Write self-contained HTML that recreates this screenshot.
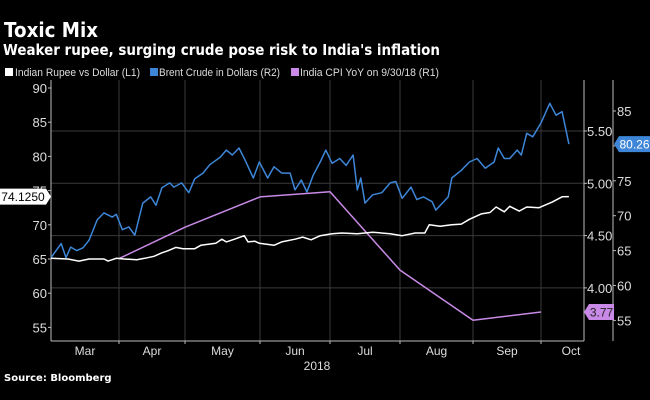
<!DOCTYPE html>
<html><head><meta charset="utf-8"><style>
html,body{margin:0;padding:0;background:#000;width:650px;height:400px;overflow:hidden}
svg{display:block;font-family:"Liberation Sans",sans-serif}
</style></head><body>
<svg id="chart" width="650" height="400" viewBox="0 0 650 400">
<rect x="0" y="0" width="650" height="400" fill="#000"/>
<text x="4" y="37" fill="#fff" font-family="DejaVu Sans" font-weight="bold" font-size="20" textLength="94" lengthAdjust="spacingAndGlyphs">Toxic Mix</text>
<text x="3" y="55" fill="#fff" font-family="DejaVu Sans" font-weight="bold" font-size="15" textLength="437" lengthAdjust="spacingAndGlyphs">Weaker rupee, surging crude pose risk to India's inflation</text>
<g>
 <rect x="5" y="68" width="8" height="8" fill="#fff"/>
 <text x="15" y="76" fill="#ddd" font-size="11" textLength="125" lengthAdjust="spacingAndGlyphs">Indian Rupee vs Dollar (L1)</text>
 <rect x="150" y="68" width="8" height="8" fill="#3d86d8"/>
 <text x="159" y="76" fill="#ddd" font-size="11" textLength="121" lengthAdjust="spacingAndGlyphs">Brent Crude in Dollars (R2)</text>
 <rect x="291" y="68" width="8" height="8" fill="#c88ae6"/>
 <text x="300" y="76" fill="#ddd" font-size="11" textLength="139" lengthAdjust="spacingAndGlyphs">India CPI YoY on 9/30/18 (R1)</text>
</g>
<g id="grid"></g><g id="axes"></g><g id="series"></g><g id="labels"></g>
<text x="317" y="370" fill="#ddd" font-size="12" text-anchor="middle">2018</text>
<text x="4" y="381" fill="#fff" font-family="DejaVu Sans" font-weight="bold" font-size="10">Source: Bloomberg</text>
</svg>
<script>
const months = ["Mar","Apr","May","Jun","Jul","Aug","Sep","Oct"];
const l1Ticks = [55,60,65,70,75,80,85,90];
const r1Ticks = [4.00,4.50,5.00,5.50];
const r2Ticks = [55,60,65,70,75,80,85];
const rupeeT = [0,0.25,0.41,0.56,0.78,0.84,0.96,1.08,1.27,1.39,1.53,1.65,1.74,1.86,1.97,2.13,2.21,2.41,2.49,2.55,2.66,2.79,2.84,2.93,2.99,3.2,3.31,3.5,3.61,3.73,3.86,4.03,4.17,4.39,4.61,4.86,5.03,5.21,5.34,5.4,5.55,5.71,5.84,5.95,6.12,6.25,6.34,6.46,6.54,6.68,6.79,6.97,7.16,7.31,7.41];
const rupeeV = [65.1,65,64.7,65,65,64.7,65.1,65,64.9,65.1,65.4,65.9,66.2,66.7,66.5,66.5,67,67.3,67.9,67.5,67.9,68.4,67.5,67.6,67.3,67,67.5,67.9,68.2,67.8,68.4,68.7,68.8,68.7,68.9,68.7,68.4,68.8,68.8,70,69.8,70,70.1,70.8,71.6,71.8,72.6,71.9,72.7,72,72.6,72.5,73.3,74.1,74.125];
const brentT = [0,0.15,0.22,0.29,0.38,0.47,0.56,0.68,0.78,0.9,0.96,1.05,1.15,1.24,1.36,1.48,1.56,1.65,1.77,1.83,1.95,2.05,2.13,2.24,2.33,2.47,2.55,2.63,2.72,2.8,2.91,2.99,3.11,3.2,3.31,3.43,3.5,3.59,3.67,3.76,3.86,3.94,4.03,4.14,4.23,4.33,4.39,4.44,4.5,4.61,4.74,4.86,4.94,5.03,5.15,5.23,5.32,5.44,5.49,5.66,5.71,5.84,5.95,6.06,6.18,6.31,6.37,6.46,6.54,6.65,6.71,6.79,6.88,7.0,7.13,7.22,7.31,7.41];
const brentV = [64,66,64,65.5,65,65.4,66.5,69.4,70.4,69.8,70.2,68,68.4,67.2,71.8,72.7,71.5,74,74.7,74.1,74.7,73.3,75.3,76.1,77.3,78.4,79.4,78.7,79.7,78,75.4,77.7,75.4,77,76.1,76.1,73.7,75.1,73.4,75.8,77.7,79.4,77.5,78.2,77.2,78.7,73.7,75.4,71.8,73,73.3,74.7,74.9,72.5,74.1,72.3,72.7,72,70.8,72.7,75.4,76.5,77.7,78.2,76.8,77.7,79.7,78.2,78.2,79.4,78.7,81.8,81.3,83.3,86.1,84.4,84.9,80.26];
const cpiT = [1,2,3,4,5,6,7];
const cpiV = [4.28,4.58,4.87,4.92,4.17,3.69,3.77];

const NS="http://www.w3.org/2000/svg";
const bounds=[51,119,185,260,330,400,473,541,609];
const L=51,R=584,R2X=613,B=341,T=80;
function xT(t){const m=Math.min(Math.floor(t),7);return bounds[m]+(t-m)*(bounds[m+1]-bounds[m]);}
function yL(v){return 259-(v-65)*6.84;}
function yR1(v){return 131-(v-5.5)*104.6;}
function yR2(v){return 111-(v-85)*6.98;}
function mk(tag,attrs,parent,text){const e=document.createElementNS(NS,tag);for(const k in attrs)e.setAttribute(k,attrs[k]);if(text!==undefined)e.textContent=text;document.getElementById(parent).appendChild(e);return e;}
r1Ticks.forEach(v=>{const e=mk('line',{x1:L,x2:R,y1:yR1(v),y2:yR1(v),stroke:'#3a3a3a','stroke-width':1},'grid');

});
for(let i=1;i<8;i++){const e=mk('line',{x1:bounds[i],x2:bounds[i],y1:T,y2:B,stroke:'#3a3a3a','stroke-width':1},'grid');

}
[[L,L],[R,R],[R2X,R2X]].forEach((p,i)=>{const e=mk('line',{x1:p[0],x2:p[1],y1:T,y2:B,stroke:'#bbb','stroke-width':1},'axes');

});
const xa=mk('line',{x1:L,x2:R,y1:B,y2:B,stroke:'#bbb','stroke-width':1},'axes');


l1Ticks.forEach(v=>{mk('line',{x1:L-3,x2:L,y1:yL(v),y2:yL(v),stroke:'#bbb'},'axes');
const t=mk('text',{x:L-4,y:yL(v)+5,fill:'#ddd','font-size':13,'text-anchor':'end'},'axes',v);

});
r1Ticks.forEach(v=>{mk('line',{x1:R,x2:R+3,y1:yR1(v),y2:yR1(v),stroke:'#bbb'},'axes');
const t=mk('text',{x:R+3,y:yR1(v)+5,fill:'#ddd','font-size':13},'axes',v.toFixed(2));

});
r2Ticks.forEach(v=>{mk('line',{x1:R2X,x2:R2X+3,y1:yR2(v),y2:yR2(v),stroke:'#bbb'},'axes');
const t=mk('text',{x:R2X+4,y:yR2(v)+5,fill:'#ddd','font-size':13},'axes',v);

});
months.forEach((m,i)=>{const cx=i<7?(bounds[i]+bounds[i+1])/2:571;
const t=mk('text',{x:cx,y:355,fill:'#ddd','font-size':12,'text-anchor':'middle'},'axes',m);

});
for(let i=1;i<8;i++)mk('line',{x1:bounds[i],x2:bounds[i],y1:B,y2:B+3,stroke:'#bbb'},'axes');
function line(ts,vs,yf,color,name){const d=ts.map((t,i)=>(i?'L':'M')+xT(t).toFixed(1)+','+yf(vs[i]).toFixed(1)).join('');
const p=mk('path',{d:d,fill:'none',stroke:color,'stroke-width':1.5,'stroke-linejoin':'round'},'series');

}
line(cpiT,cpiV,yR1,'#c88ae6','cpi-line');
line(brentT,brentV,yR2,'#3d86d8','brent-line');
line(rupeeT,rupeeV,yL,'#ffffff','rupee-line');
function tag(x,y,w,txt,bg,fg,name,left){const g=mk('g',{},'labels');


const pts=left?`${x},${y-8} ${x+w},${y-8} ${x+w+5},${y} ${x+w},${y+8} ${x},${y+8}`:`${x},${y} ${x+5},${y-8} ${x+5+w},${y-8} ${x+5+w},${y+8} ${x+5},${y+8}`;
const p=document.createElementNS(NS,'polygon');p.setAttribute('points',pts);p.setAttribute('fill',bg);g.appendChild(p);
const t=document.createElementNS(NS,'text');t.setAttribute('x',left?x+w/2:x+5+w/2);t.setAttribute('y',y+4.5);t.setAttribute('fill',fg);t.setAttribute('font-size',12);t.setAttribute('text-anchor','middle');t.textContent=txt;g.appendChild(t);}
tag(0,yL(rupeeV[rupeeV.length-1]),46,rupeeV[rupeeV.length-1].toFixed(4),'#fff','#000','rupee-last-value-label',true);
tag(614,yR2(brentV[brentV.length-1]),31,brentV[brentV.length-1].toFixed(2),'#3d86d8','#fff','brent-last-value-label',false);
tag(584,yR1(cpiV[cpiV.length-1]),25,cpiV[cpiV.length-1].toFixed(2),'#c88ae6','#222','cpi-last-value-label',false);
</script>
</body></html>
